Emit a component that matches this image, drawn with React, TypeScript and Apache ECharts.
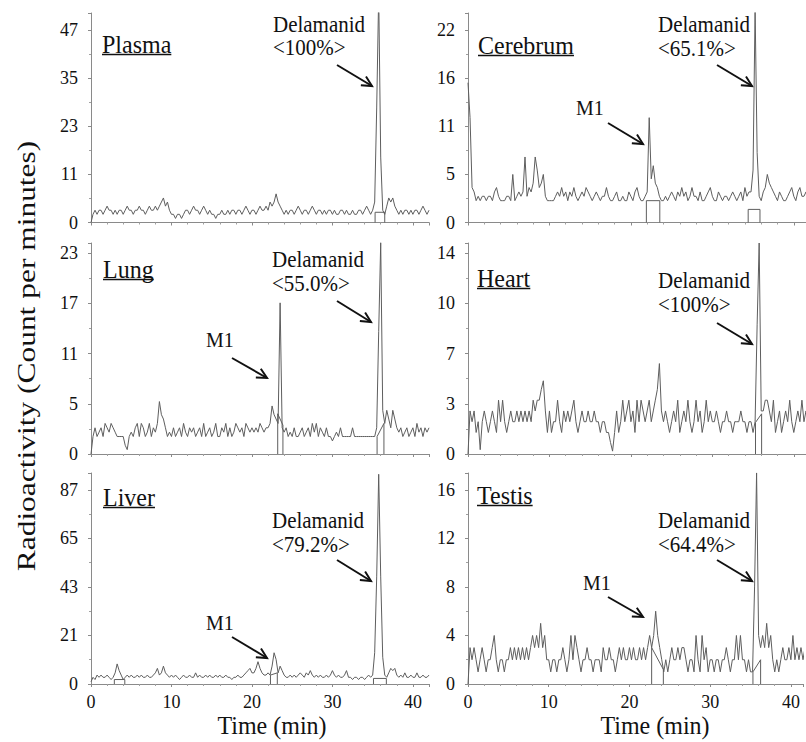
import React, { useEffect, useRef } from 'react';
import * as echarts from 'echarts';

// Sampling step of the radiochromatograms (min)
const STEP = 0.25;

// Panel names and top tick values of their y axes
const panelNames = ['Plasma', 'Cerebrum', 'Lung', 'Heart', 'Liver', 'Testis'];
const yTopTicks = [47, 22, 23, 14, 87, 16];
const delamanidPct = ['<100%>', '<65.1%>', '<55.0%>', '<100%>', '<79.2%>', '<64.4%>'];
const xTickValues = [0, 10, 20, 30, 40];

// Traces (counts per minute), one value every 0.25 min from 0 to 42 min
const plasma = [
  0, 2, 3, 2, 3, 3, 2, 3, 4, 3, 3, 2, 3, 2, 3, 3, 2, 3, 4, 3,
  3, 2, 3, 3, 4, 3, 3, 2, 3, 4, 3, 3, 4, 3, 4, 5, 6, 4, 5, 3,
  2, 2, 1, 2, 2, 1, 2, 3, 3, 2, 3, 4, 3, 3, 2, 3, 4, 3, 2, 3,
  2, 2, 1, 2, 2, 3, 2, 2, 3, 2, 3, 3, 2, 3, 3, 2, 3, 4, 3, 2,
  3, 3, 2, 3, 4, 3, 3, 4, 3, 5, 4, 5, 7, 5, 4, 3, 2, 3, 2, 3,
  3, 2, 3, 4, 3, 2, 3, 3, 2, 3, 4, 3, 2, 3, 3, 2, 3, 2, 3, 3,
  2, 3, 2, 2, 3, 3, 2, 3, 2, 2, 3, 2, 2, 3, 3, 2, 3, 4, 3, 2,
  3, 5, 28, 56, 16, 3, 2, 4, 6, 5, 6, 4, 3, 2, 3, 2, 3, 3, 2, 3,
  2, 3, 3, 2, 3, 4, 3, 2, 3,
];
const cerebrum = [
  16, 12, 4, 3.5, 2.5, 3, 2.5, 3, 3, 2.5, 3, 3, 2.5, 3.5, 4, 3, 2.5, 2.5, 2.5, 3,
  3, 2.5, 5.5, 2.5, 3, 3.5, 3, 3.5, 7.5, 3, 4, 3.5, 4.5, 7.5, 6, 4, 4.5, 5.5, 3, 2.5,
  2.5, 2.5, 2.5, 3, 3.5, 3, 4, 3, 3.5, 2.5, 3.5, 3, 4, 3, 2.5, 3, 3.5, 3, 4, 3.5,
  3, 2.5, 3, 3.5, 3, 2.5, 3, 3, 4, 3, 2.5, 2.5, 3, 3.5, 2.5, 2.5, 3, 2.5, 2.5, 3.5,
  3, 2.5, 3.5, 4, 3, 2.5, 2.5, 3, 3.5, 12, 5, 6.5, 4.5, 4, 3, 2.5, 2.5, 3, 2.5, 3,
  3.5, 3, 2.5, 3.5, 3, 4, 3, 3.5, 2.5, 3, 4, 3, 3, 2.5, 3.5, 2.5, 2.5, 3, 3.5, 4,
  3, 2.5, 2.5, 3.5, 3, 2.5, 3, 3, 2.5, 3, 3.5, 3, 2.5, 3, 3.5, 2.5, 4, 3, 3.5, 3.5,
  6, 24.5, 8, 3, 2.5, 3.5, 4, 5.5, 4.5, 4, 3.5, 3, 2.5, 3.5, 3, 2.5, 2.5, 3, 3.5, 4,
  3, 2.5, 3.5, 4, 3, 3, 3.5, 3, 3,
];
const lung = [
  0, 2, 3, 2, 2.5, 3, 2, 3.5, 3, 2.5, 3.5, 3, 2.5, 2, 2, 2, 2, 1, 0.5, 2,
  2.5, 2, 3, 3.5, 2, 3.5, 3, 2, 2.5, 3.5, 2, 3, 2.5, 3.5, 6, 4.5, 4, 3, 2, 2.5,
  2, 3, 2, 2.5, 3, 2, 3.5, 2.5, 2, 3, 2.5, 3, 2, 2.5, 3, 2, 3.5, 2, 2.5, 3,
  2, 2.5, 3.5, 2, 2, 3, 2.5, 3.5, 2, 3, 2, 2.5, 3.5, 3, 2.5, 3, 2, 3.5, 3, 2.5,
  3, 2.5, 3, 2.5, 3.5, 3, 2.5, 3, 3, 3.5, 5.5, 4.5, 4, 3.5, 17.3, 3, 2.5, 3, 2, 2.5,
  2, 3, 2, 2, 2.5, 3, 2, 2.5, 3, 2, 3.5, 2.5, 3.5, 2, 3, 2.5, 2, 3, 2, 2,
  1.5, 2, 2.5, 2, 3, 2, 2, 2, 2, 2, 3, 2, 2, 2, 2, 2, 2, 2, 2, 2,
  2, 2, 3, 14, 24.2, 5, 3.5, 5, 4, 3, 5, 4, 3, 2.5, 3, 2, 2.5, 3, 2, 2.5,
  3, 2, 3.5, 2.5, 3, 2, 3, 2.5, 3,
];
const heart = [
  0, 3, 2.25, 3, 1.5, 2.25, 0.3, 2.25, 3, 2.25, 1.5, 2.25, 3, 2.25, 1.5, 3.75, 2.25, 3.75, 2.25, 1.5,
  2.25, 3, 2.25, 2.25, 3, 2.25, 3, 2.25, 3, 2.25, 3, 2.25, 3.75, 3, 3.75, 3.75, 4.5, 5.1, 3, 1.5,
  3, 1.5, 2.25, 2.25, 3.75, 2.25, 1.5, 3, 2.25, 3, 2.25, 3, 3.75, 2.25, 1.5, 2.25, 3, 2.25, 2.25, 3,
  2.25, 2.25, 3, 2.25, 2.25, 1.5, 2.25, 2.25, 1.5, 1.5, 0.8, 0.2, 1.5, 3, 1.5, 2.25, 3.75, 2.25, 3, 3.75,
  2.25, 3, 1.5, 3.75, 2.25, 3.75, 3, 2.25, 3, 3.75, 2.25, 3, 3.75, 4.5, 6.3, 3, 2.25, 3, 2.25, 1.5,
  2.25, 3, 2.25, 3.75, 1.5, 2.25, 3, 2.25, 3.75, 2.25, 1.5, 2.25, 3.75, 2.25, 3, 1.5, 2.25, 3.75, 2.25, 3,
  2.25, 2.25, 3, 2.25, 1.5, 2.25, 2.25, 3, 2.25, 2.25, 1.5, 2.25, 2.25, 2.25, 3, 2.25, 2.25, 1.5, 2.25, 2.25,
  1.5, 2.25, 9, 14.7, 3, 3, 3.75, 3.75, 3, 2.25, 3.75, 1.5, 2.25, 3, 1.5, 2.25, 3, 2.25, 3.75, 2.25,
  1.5, 2.25, 3, 2.25, 3.75, 2.25, 3, 2.25, 2.25,
];
const liver = [
  1, 3, 2, 4, 3, 4, 3, 3, 4, 3, 2, 3, 5, 9, 6, 4, 2, 3, 4, 3,
  4, 3, 3, 4, 3, 4, 3, 3, 4, 3, 3, 4, 5, 7, 4, 5, 8, 5, 4, 3,
  4, 3, 4, 3, 2, 3, 4, 3, 3, 4, 3, 3, 5, 3, 4, 3, 3, 4, 3, 4,
  3, 3, 4, 3, 4, 3, 3, 4, 3, 3, 2, 3, 3, 4, 3, 3, 4, 5, 6, 7,
  5, 5, 7, 10, 7, 5, 4, 4, 5, 4, 8, 14, 11, 5, 8, 6, 4, 3, 3, 4,
  3, 4, 3, 4, 5, 4, 3, 5, 4, 6, 4, 3, 4, 3, 4, 3, 3, 4, 3, 4,
  6, 4, 3, 4, 3, 3, 4, 6, 3, 3, 2, 3, 3, 2, 3, 3, 2, 3, 4, 3,
  4, 14, 48, 94, 48, 12, 4, 3, 5, 7, 6, 7, 4, 3, 4, 3, 5, 3, 3, 4,
  3, 3, 5, 3, 3, 4, 3, 3, 4,
];
const testis = [
  0, 3, 2, 3, 2, 1, 2, 3, 2, 1, 2, 2, 3, 4, 2, 1, 2, 2, 1, 2,
  2, 3, 2, 3, 2, 3, 2, 3, 2, 3, 2, 3, 4, 3, 4, 3, 5, 3, 4, 2,
  2, 1, 2, 2, 1, 2, 2, 3, 2, 1, 2, 4, 2, 4, 3, 2, 1, 2, 2, 3,
  2, 2, 1, 2, 2, 2, 1, 3, 2, 2, 3, 2, 2, 1, 2, 3, 2, 3, 2, 2,
  3, 2, 3, 2, 2, 3, 2, 3, 2, 3, 4, 3, 4, 6, 4, 3, 2, 1, 2, 1,
  2, 3, 2, 2, 3, 2, 3, 3, 2, 1, 2, 2, 1, 4, 2, 1, 4, 2, 3, 1,
  2, 2, 1, 2, 2, 1, 2, 2, 3, 2, 1, 2, 2, 4, 2, 4, 2, 2, 1, 2,
  1, 1, 8, 17.4, 4, 3, 4, 3, 5, 3, 4, 2, 1, 2, 1, 2, 3, 2, 2, 3,
  2, 4, 2, 3, 2, 3, 2, 3, 2,
];
const traces = [plasma, cerebrum, lung, heart, liver, testis];

// Peak integration markers ([time, counts] polylines)
const plasmaMarks = [[[35.3, 0], [35.3, 2.5], [36.5, 2.5], [36.5, 0]]];
const cerebrumMarks = [
  [[21.9, 0], [21.9, 2.5], [23.55, 2.5], [23.55, 0]],
  [[34.4, 0], [34.4, 1.5], [35.85, 1.5], [35.85, 0]],
];
const lungMarks = [
  [[23.2, 0], [23.2, 4.6], [23.85, 3.3], [23.85, 0]],
  [[35.55, 0], [35.55, 2], [36.4, 3.5], [36.4, 0]],
];
const heartMarks = [[[35.3, 0], [35.3, 2.2], [36.05, 2.8], [36.05, 0]]];
const liverMarks = [
  [[2.9, 0], [2.9, 2], [4.2, 2], [4.2, 0]],
  [[22.3, 0], [22.3, 4], [23.15, 5], [23.15, 0]],
  [[35.1, 0], [35.1, 2.5], [36.7, 2.5], [36.7, 0]],
];
const testisMarks = [
  [[22.75, 0], [22.75, 3], [24.2, 1.2], [24.2, 0]],
  [[35.3, 0], [35.3, 1], [36.25, 2], [36.25, 0]],
];
const marks = [plasmaMarks, cerebrumMarks, lungMarks, heartMarks, liverMarks, testisMarks];

const FONT = 'Liberation Serif, Times New Roman, serif';
const INK = '#111';
const AXIS = '#8a8a8a';
const TRACE = '#5e5e5e';

// layout
const cols = [
  { left: 91, width: 338, max: 42 },
  { left: 468, width: 338, max: 41.5 },
];
const rows = [
  { top: 13, height: 209.5, ratio: 1.09 },
  { top: 243, height: 211, ratio: 1.05 },
  { top: 473, height: 211, ratio: 1.087 },
];

const isMult = (v: number, step: number) => {
  const k = v / step;
  return Math.abs(k - Math.round(k)) < 1e-6;
};

let measureCtx: CanvasRenderingContext2D | null = null;
const measure = (text: string, fs: number) => {
  if (!measureCtx) measureCtx = document.createElement('canvas').getContext('2d');
  if (!measureCtx) return text.length * fs * 0.5;
  measureCtx.font = `${fs}px ${FONT}`;
  return measureCtx.measureText(text).width;
};

const txt = (text: string, x: number, baseline: number, fs: number, align = 'left', sy = 1.08) => ({
  type: 'text',
  x,
  y: baseline - 0.34 * fs,
  scaleY: sy,
  silent: true,
  style: {
    text,
    fontSize: fs,
    fontFamily: FONT,
    fill: INK,
    align,
    textAlign: align,
    verticalAlign: 'middle',
    textVerticalAlign: 'middle',
  },
});

const arrow = (x1: number, y1: number, x2: number, y2: number) => {
  const dx = x2 - x1;
  const dy = y2 - y1;
  const L = Math.hypot(dx, dy);
  const ux = dx / L;
  const uy = dy / L;
  const hl = 10;
  const hw = 5;
  const bx = x2 - ux * hl;
  const by = y2 - uy * hl;
  return [
    { type: 'line', silent: true, shape: { x1, y1, x2, y2 }, style: { stroke: INK, lineWidth: 2 } },
    {
      type: 'polyline',
      silent: true,
      shape: { points: [[bx - uy * hw, by + ux * hw], [x2, y2], [bx + uy * hw, by - ux * hw]] },
      style: { stroke: INK, lineWidth: 2, fill: null },
    },
  ];
};

const title = (text: string, x: number, baseline: number) => {
  const w = measure(text, 24);
  return [
    txt(text, x, baseline, 24),
    { type: 'line', silent: true, shape: { x1: x, y1: baseline + 2.5, x2: x + w, y2: baseline + 2.5 }, style: { stroke: INK, lineWidth: 1.5 } },
  ];
};

export default function App() {
  const ref = useRef<HTMLDivElement>(null);

  useEffect(() => {
    if (!ref.current) return;
    const chart = echarts.init(ref.current, null, { renderer: 'svg' });

    const grid: any[] = [];
    const xAxis: any[] = [];
    const yAxis: any[] = [];
    const series: any[] = [];

    traces.forEach((values, i) => {
      const col = cols[i % 2];
      const row = rows[Math.floor(i / 2)];
      const yTop = yTopTicks[i];
      const yStep = yTop / 4;
      grid.push({ left: col.left, width: col.width, top: row.top, height: row.height, containLabel: false });
      xAxis.push({
        gridIndex: i,
        type: 'value',
        min: 0,
        max: col.max,
        interval: 10,
        axisLine: { show: true, lineStyle: { color: AXIS, width: 1 } },
        axisTick: { show: true, length: 3, lineStyle: { color: AXIS } },
        minorTick: { show: true, splitNumber: 5, length: 2, lineStyle: { color: '#a0a0a0' } },
        splitLine: { show: false },
        axisLabel: {
          show: Math.floor(i / 2) === 2,
          fontFamily: FONT,
          fontSize: 18,
          color: INK,
          margin: 9,
          formatter: (v: number) => (xTickValues.some((t) => Math.abs(t - v) < 1e-6) ? String(v) : ''),
        },
      });
      yAxis.push({
        gridIndex: i,
        type: 'value',
        min: 0,
        max: yTop * row.ratio,
        interval: yStep,
        axisLine: { show: true, lineStyle: { color: AXIS, width: 1 } },
        axisTick: { show: true, length: 3, lineStyle: { color: AXIS } },
        minorTick: { show: true, splitNumber: 2, length: 2, lineStyle: { color: '#a0a0a0' } },
        splitLine: { show: false },
        axisLabel: {
          fontFamily: FONT,
          fontSize: 18,
          color: INK,
          margin: 13,
          formatter: (v: number) => (isMult(v, yStep) && v <= yTop + 1e-6 ? String(Math.floor(v + 1e-6)) : ''),
        },
      });
      series.push({
        type: 'line',
        xAxisIndex: i,
        yAxisIndex: i,
        data: values.map((v, k) => [k * STEP, v]),
        symbol: 'none',
        silent: true,
        clip: true,
        lineStyle: { color: TRACE, width: 1 },
      });
      marks[i].forEach((m) => {
        series.push({
          type: 'line',
          xAxisIndex: i,
          yAxisIndex: i,
          data: m,
          symbol: 'none',
          silent: true,
          clip: true,
          lineStyle: { color: TRACE, width: 1 },
        });
      });
    });

    const elements: any[] = [
      // panel titles
      ...title(panelNames[0], 102, 52),
      ...title(panelNames[1], 478, 53),
      ...title(panelNames[2], 103, 277),
      ...title(panelNames[3], 477, 286),
      ...title(panelNames[4], 103, 505),
      ...title(panelNames[5], 477, 503),
      // Delamanid labels
      txt('Delamanid', 273, 32, 21), txt(delamanidPct[0], 273, 55, 21), ...arrow(337, 65, 372, 86),
      txt('Delamanid', 658, 32, 21), txt(delamanidPct[1], 658, 56, 21), ...arrow(717, 65, 752, 86),
      txt('Delamanid', 272, 267, 21), txt(delamanidPct[2], 272, 291, 21), ...arrow(337, 301, 371, 322),
      txt('Delamanid', 658, 288, 21), txt(delamanidPct[3], 658, 312, 21), ...arrow(717, 323, 752, 344),
      txt('Delamanid', 272, 528, 21), txt(delamanidPct[4], 272, 552, 21), ...arrow(337, 560, 371, 581),
      txt('Delamanid', 658, 528, 21), txt(delamanidPct[5], 658, 552, 21), ...arrow(717, 560, 752, 581),
      // M1 labels
      txt('M1', 576, 115, 20), ...arrow(608, 123, 643, 144),
      txt('M1', 206, 347, 20), ...arrow(232, 358, 267, 378),
      txt('M1', 206, 630, 20), ...arrow(232, 637, 267, 658),
      txt('M1', 583, 590, 20), ...arrow(608, 597, 643, 617),
      // axis titles
      txt('Time (min)', 272, 733, 24, 'center'),
      txt('Time (min)', 655, 733, 24, 'center'),
      {
        type: 'text',
        x: 26,
        y: 356,
        rotation: Math.PI / 2,
        scaleX: 1.21,
        silent: true,
        style: {
          text: 'Radioactivity (Count per minutes)',
          fontSize: 26,
          fontFamily: FONT,
          fill: INK,
          align: 'center',
          textAlign: 'center',
          verticalAlign: 'middle',
          textVerticalAlign: 'middle',
        },
      },
    ];

    chart.setOption({
      animation: false,
      backgroundColor: '#ffffff',
      grid,
      xAxis,
      yAxis,
      series,
      graphic: { elements },
    });

    return () => chart.dispose();
  }, []);

  return (
    <div
      ref={ref}
      style={{ position: 'absolute', left: 0, top: 0, width: 806, height: 742, background: '#fff' }}
    />
  );
}
